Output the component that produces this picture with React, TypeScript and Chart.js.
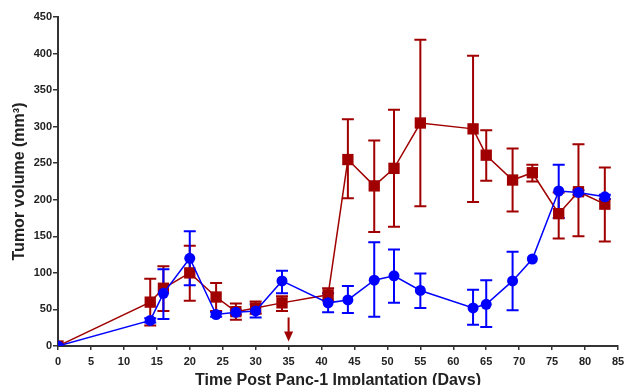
import React, { useEffect, useRef } from "react";
import { Chart, registerables } from "chart.js";

Chart.register(...registerables);

const days = [0, 14, 16, 20, 24, 27, 30, 34, 41, 44, 48, 51, 55, 63, 65, 69, 72, 76, 79, 83];

const redMean = [0, 60, 79, 100, 67, 47, 52, 59, 70, 255, 219, 243, 305, 297, 261, 227, 237, 181, 211, 194];
const redUpper = [0, 92, 109, 137, 86, 58, 61, 68, 79, 310, 281, 323, 419, 397, 295, 270, 248, 210, 276, 244];
const redLower = [0, 28, 48, 62, 48, 36, 44, 48, 62, 202, 156, 163, 191, 197, 226, 184, 225, 147, 150, 143];

const blueMean = [0, 35, 72, 120, 43, 46, 48, 89, 59, 63, 90, 96, 76, 52, 57, 89, 119, 212, 210, 204];
const blueUpper = [0, 38, 105, 157, 46, 49, 57, 103, 72, 82, 142, 132, 99, 77, 90, 129, 119, 248, 213, 207];
const blueLower = [0, 32, 37, 83, 40, 43, 39, 72, 46, 45, 40, 59, 52, 29, 26, 49, 119, 175, 207, 201];

const xTicks = [0, 5, 10, 15, 20, 25, 30, 35, 40, 45, 50, 55, 60, 65, 70, 75, 80, 85];
const yTicks = [0, 50, 100, 150, 200, 250, 300, 350, 400, 450];

const arrowDay = 35;
const arrowFrom = 39;
const arrowTo = 6;

const RED = "#A00000";
const BLUE = "#0000FF";
const AXIS = "#333333";
const FONT = "'Liberation Sans', Arial, sans-serif";

const errorBars = {
  id: "errorBars",
  beforeDatasetsDraw(chart: any) {
    const { ctx, scales } = chart;
    const xs = scales.x;
    const ys = scales.y;
    const groups = [
      { up: redUpper, lo: redLower, color: RED },
      { up: blueUpper, lo: blueLower, color: BLUE },
    ];
    ctx.save();
    for (const g of groups) {
      ctx.strokeStyle = g.color;
      ctx.lineWidth = 2;
      for (let i = 0; i < days.length; i++) {
        if (g.up[i] === g.lo[i]) continue;
        const x = xs.getPixelForValue(days[i]);
        const yu = ys.getPixelForValue(g.up[i]);
        const yl = ys.getPixelForValue(g.lo[i]);
        const cw = 6;
        ctx.beginPath();
        ctx.moveTo(x, yu);
        ctx.lineTo(x, yl);
        ctx.moveTo(x - cw, yu);
        ctx.lineTo(x + cw, yu);
        ctx.moveTo(x - cw, yl);
        ctx.lineTo(x + cw, yl);
        ctx.stroke();
      }
    }
    ctx.restore();
  },
  afterDatasetsDraw(chart: any) {
    const { ctx, scales } = chart;
    const x = scales.x.getPixelForValue(arrowDay);
    const y1 = scales.y.getPixelForValue(arrowFrom);
    const y2 = scales.y.getPixelForValue(arrowTo);
    ctx.save();
    ctx.strokeStyle = RED;
    ctx.fillStyle = RED;
    ctx.lineWidth = 2;
    ctx.beginPath();
    ctx.moveTo(x, y1);
    ctx.lineTo(x, y2 - 8);
    ctx.stroke();
    ctx.beginPath();
    ctx.moveTo(x - 4.5, y2 - 10);
    ctx.lineTo(x + 4.5, y2 - 10);
    ctx.lineTo(x, y2);
    ctx.closePath();
    ctx.fill();
    ctx.restore();
  },
};

export default function App() {
  const ref = useRef<HTMLCanvasElement>(null);
  useEffect(() => {
    if (!ref.current) return;
    const chart = new Chart(ref.current, {
      type: "line",
      data: {
        datasets: [
          {
            label: "Blue",
            data: days.map((d, i) => ({ x: d, y: blueMean[i] })),
            borderColor: BLUE,
            backgroundColor: BLUE,
            borderWidth: 1.5,
            pointStyle: "circle",
            pointRadius: 5.5,
            pointBorderWidth: 0,
            tension: 0,
          },
          {
            label: "Red",
            data: days.map((d, i) => ({ x: d, y: redMean[i] })),
            borderColor: RED,
            backgroundColor: RED,
            borderWidth: 1.5,
            pointStyle: "rect",
            pointRadius: 8,
            pointBorderWidth: 0,
            tension: 0,
          },
        ],
      },
      options: {
        animation: false,
        responsive: false,
        layout: { padding: { top: 17, right: 4, bottom: 0, left: 0 } },
        plugins: { legend: { display: false }, tooltip: { enabled: false } },
        scales: {
          x: {
            type: "linear",
            min: 0,
            max: 85,
            afterFit(scale: any) {
              scale.height = 39;
              scale.paddingRight = 0;
              scale.paddingLeft = 0;
            },
            afterBuildTicks(scale: any) {
              scale.ticks = xTicks.map((v) => ({ value: v }));
            },
            border: { display: true, color: AXIS, width: 2 },
            grid: { display: true, drawOnChartArea: false, drawTicks: true, tickLength: 4, color: AXIS, lineWidth: 1.5 },
            ticks: {
              padding: 5,
              maxRotation: 0,
              autoSkip: false,
              color: "#222",
              font: { family: FONT, size: 11, weight: "bold" },
            },
            title: {
              display: true,
              text: "Time Post Panc-1 Implantation (Days)",
              color: "#222",
              font: { family: FONT, size: 16, weight: "bold", lineHeight: 1 },
              padding: { top: 0, bottom: -4 },
            },
          },
          y: {
            type: "linear",
            min: 0,
            max: 450,
            afterFit(scale: any) {
              scale.width = 58;
              scale.paddingTop = 0;
              scale.paddingBottom = 0;
            },
            afterBuildTicks(scale: any) {
              scale.ticks = yTicks.map((v) => ({ value: v }));
            },
            border: { display: true, color: AXIS, width: 2 },
            grid: { display: true, drawOnChartArea: false, drawTicks: true, tickLength: 5, color: AXIS, lineWidth: 1.5 },
            ticks: {
              padding: 1,
              autoSkip: false,
              color: "#222",
              font: { family: FONT, size: 11, weight: "bold" },
            },
            title: {
              display: true,
              text: "Tumor volume (mm³)",
              color: "#222",
              font: { family: FONT, size: 16, weight: "bold", lineHeight: 1 },
              padding: { top: 12, bottom: 0 },
            },
          },
        },
      },
      plugins: [errorBars],
    } as any);
    return () => chart.destroy();
  }, []);
  return (
    <div style={{ position: "fixed", left: 0, top: 0, width: 626, height: 385, background: "#fff" }}>
      <canvas ref={ref} width={626} height={385} />
    </div>
  );
}
